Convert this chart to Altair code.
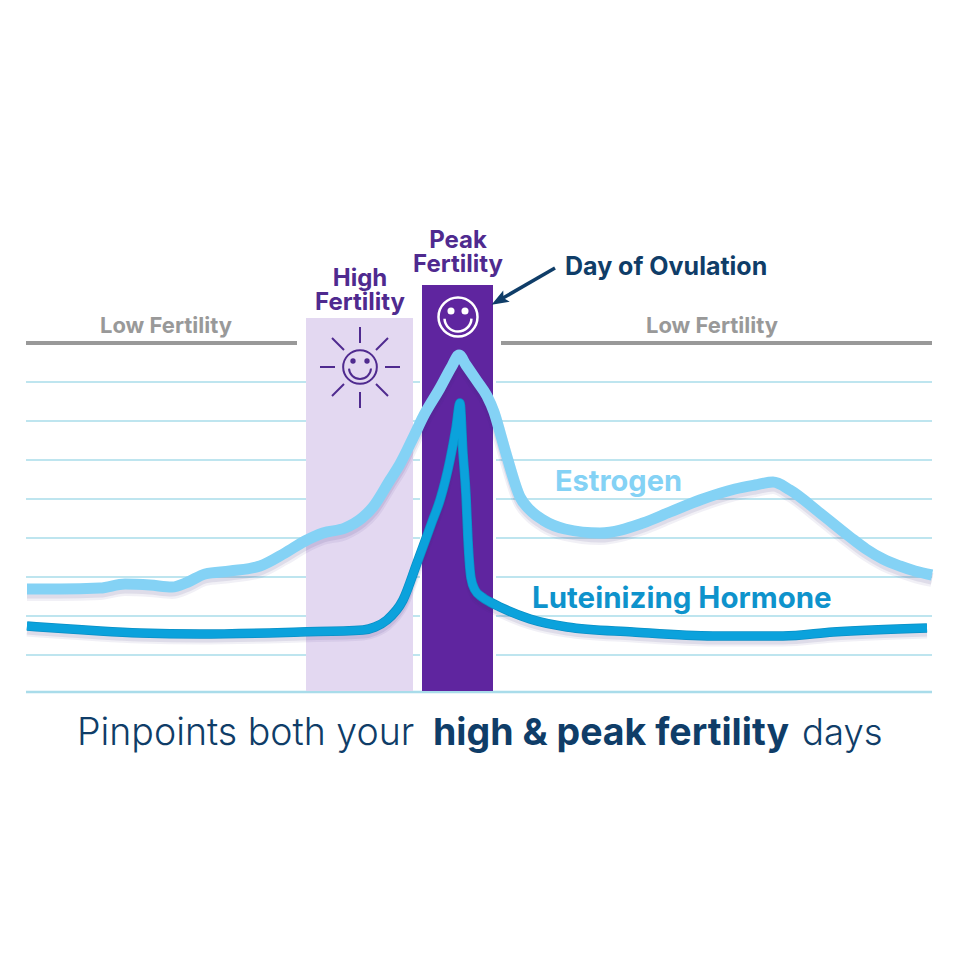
import altair as alt
import pandas as pd

NAVY = "#0f3d68"
PURPLE = "#4f2a8f"
DARK = "#5f259f"
LIGHT = "#e3d8f1"
EST = "#84d2f5"
LH = "#0ba2dc"
GRID = "#a9dcea"
GREY = "#999999"
FONT = "Inter"

est_x = [27, 60, 100, 125, 150, 172, 188, 205, 230, 260, 285, 305, 323, 345, 362, 373, 390, 400, 413, 423, 440, 452, 459, 466, 477, 487, 494, 501, 507, 520, 530, 543, 565, 600, 643, 670, 700, 735, 755, 773, 790, 820, 850, 866, 883, 900, 915, 932]
est_y = [589, 589, 588, 584, 585, 587, 582, 574, 571, 566, 553, 541, 533, 528, 518, 507, 480, 464, 438, 417, 388, 366, 355, 365, 381, 396, 412, 436, 457, 497, 510, 520, 529, 533, 523, 512, 500, 489, 485, 482, 490, 513, 537, 549, 559, 566, 571, 575]
lh_x = [27, 70, 100, 140, 200, 300, 363, 375, 387, 403, 417, 432, 440, 450, 456, 460, 463, 466, 468, 471, 475, 482, 490, 500, 530, 567, 633, 713, 783, 833, 927]
lh_y = [626, 629, 631, 633, 634, 632, 630, 627, 620, 600, 563, 522, 500, 460, 428, 403, 453, 495, 540, 578, 590, 597, 602, 607, 619, 627, 632, 636, 636, 632, 628]
grid_y = [382, 421, 460, 499, 538, 577, 616, 655]

ray_x = [320, 385, 360, 360, 332, 376, 332, 376]
ray_x2 = [335, 400, 360, 360, 344, 388, 344, 388]
ray_y = [367, 367, 327, 392, 338, 350, 396, 384]
ray_y2 = [367, 367, 343, 408, 350, 338, 384, 396]

X = alt.Scale(domain=[8, 962], range=[0, 954])
Y = alt.Scale(domain=[8, 958], range=[0, 950])


def xq(f="x"):
    return alt.X(f"{f}:Q", scale=X, axis=None)


def yq(f="y"):
    return alt.Y(f"{f}:Q", scale=Y, axis=None)


def df(**kw):
    return pd.DataFrame(kw)


def rule(x, x2, y, y2, color, width, cap="butt"):
    return alt.Chart(df(x=x, x2=x2, y=y, y2=y2)).mark_rule(
        color=color, strokeWidth=width, strokeCap=cap
    ).encode(x=xq(), x2="x2:Q", y=yq(), y2="y2:Q")


def rect(x, x2, y, y2, color):
    return alt.Chart(df(x=[x], x2=[x2], y=[y], y2=[y2])).mark_rect(color=color).encode(
        x=xq(), x2="x2:Q", y=yq(), y2="y2:Q"
    )


def line(xs, ys, color, width, opacity=1.0, dy=0):
    d = df(x=xs, y=[v + dy for v in ys], o=list(range(len(xs))))
    return alt.Chart(d).mark_line(
        color=color, strokeWidth=width, opacity=opacity, strokeJoin="round", interpolate="monotone"
    ).encode(x=xq(), y=yq(), order="o:Q")


def text(s, x, y, size, color, weight="bold", align="center"):
    return alt.Chart(df(x=[x], y=[y], t=[s])).mark_text(
        font=FONT, fontSize=size, fontWeight=weight, color=color, align=align, baseline="middle",
        lineBreak="\n", lineHeight=24,
    ).encode(x=xq(), y=yq(), text="t:N")


def circle(x, y, radius, color, width=None):
    area = 3.1416 * radius * radius
    if width:
        m = alt.Chart(df(x=[x], y=[y])).mark_point(
            shape="circle", size=area, stroke=color, strokeWidth=width, filled=False, opacity=1
        )
    else:
        m = alt.Chart(df(x=[x], y=[y])).mark_point(
            shape="circle", size=area, fill=color, filled=True, opacity=1
        )
    return m.encode(x=xq(), y=yq())


def smile(x, y, r, w, color):
    return alt.Chart(df(x=[x], y=[y])).mark_arc(
        innerRadius=r - w / 2, outerRadius=r + w / 2, theta=1.62, theta2=4.66, color=color
    ).encode(x=xq(), y=yq())


layers = [
    rule([26] * 8, [932] * 8, grid_y, grid_y, GRID, 1.5),
    rule([26], [932], [692], [692], GRID, 2.5),
    rule([26, 501], [297, 932], [343, 343], [343, 343], GREY, 4),
    rect(420, 496, 285, 690, "#ffffff"),
    rect(306, 413, 318, 691, LIGHT),
    rect(422, 493, 285, 691, DARK),
    # sun
    rule(ray_x, ray_x2, ray_y, ray_y2, PURPLE, 2),
    circle(360, 367, 19, PURPLE, 2),
    circle(353, 361, 3, PURPLE),
    circle(367, 361, 3, PURPLE),
    smile(360, 368, 11, 2, PURPLE),
    # peak smiley
    circle(458, 317, 22, "#ffffff", 2.5),
    circle(451, 311, 4, "#ffffff"),
    circle(465, 311, 4, "#ffffff"),
    smile(458, 318, 13.5, 2.5, "#ffffff"),
    # curves
    line(est_x, est_y, "#3b2f7a", 14, 0.07, 5),
    line(est_x, est_y, "#3b2f7a", 11, 0.10, 4),
    line(est_x, est_y, EST, 11),
    line(lh_x, lh_y, "#3b2f7a", 11, 0.07, 5),
    line(lh_x, lh_y, "#3b2f7a", 9, 0.10, 4),
    line(lh_x, lh_y, "#0a8fc6", 9.5),
    line(lh_x, lh_y, LH, 8),
    # arrow
    rule([555], [503], [268], [298], NAVY, 3.5),
    alt.Chart(df(x=[499], y=[300.5])).mark_point(
        shape="M0,-1 L0.75,1 L0,0.6 L-0.75,1 Z", size=300, angle=240, fill=NAVY, filled=True, opacity=1
    ).encode(x=xq(), y=yq()),
    # labels
    text("Low Fertility", 166, 326, 22, GREY),
    text("Low Fertility", 712, 326, 22, GREY),
    text("High\nFertility", 360, 279, 24, PURPLE),
    text("Peak\nFertility", 458, 241, 24, PURPLE),
    text("Day of Ovulation", 565, 267, 25, NAVY, align="left"),
    text("Estrogen", 555, 482, 29, EST, align="left"),
    text("Luteinizing Hormone", 532, 599, 29.5, "#0e93cc", align="left"),
    text("Pinpoints both your", 77, 734, 37.5, NAVY, weight=300, align="left"),
    text("high & peak fertility", 433, 734, 37.5, NAVY, weight="bold", align="left"),
    text("days", 802, 734, 36.5, NAVY, weight=300, align="left"),
]

chart = (
    alt.layer(*layers)
    .properties(width=954, height=950, padding=0, autosize=alt.AutoSizeParams(type="none"), background="#ffffff")
    .configure_view(stroke=None)
)
chart.save("out.html", embed_options={"renderer": "svg", "actions": False})
